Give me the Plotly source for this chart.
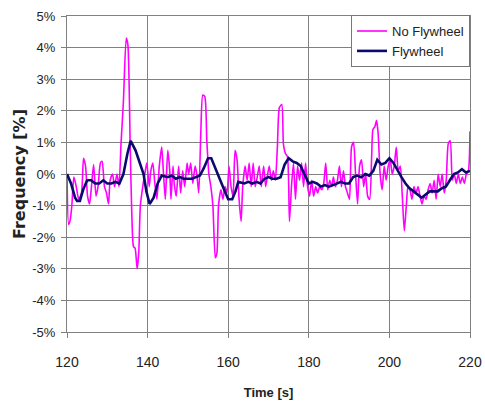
import plotly.graph_objects as go

# No Flywheel series (time [s], frequency deviation [%])
t_nofly = [120, 120.4, 120.8, 121.2, 121.7, 122.3, 122.9, 123.6, 124.1, 124.6, 125.1, 125.6, 126, 126.6,
           127.2, 127.7, 128.3, 128.7, 129.3, 129.8, 130.3, 130.7, 131.3, 131.8, 132.4, 132.9, 133.4, 134,
           134.7, 135.1, 135.7, 136.1, 136.5, 136.9, 137.4, 137.8, 138.2, 138.8, 139.3, 139.8, 140.4, 140.8,
           141.3, 141.8, 142.3, 142.9, 143.5, 143.9, 144.4, 145, 145.5, 145.8, 146.3, 146.6, 147.1, 147.7,
           148.2, 148.7, 149.2, 149.8, 150.2, 150.7, 151.2, 151.8, 152.2, 152.7, 153.2, 153.7, 154.2, 154.7,
           155.2, 155.7, 156.2, 156.8, 157.2, 157.6, 158.2, 158.7, 159.2, 159.7, 160.2, 160.7, 161.2, 161.7,
           162.2, 162.7, 163.2, 163.6, 164.2, 164.7, 165.2, 165.7, 166.2, 166.7, 167.2, 167.7, 168.2, 168.8,
           169.3, 169.8, 170.2, 170.7, 171.2, 171.7, 172.2, 172.7, 173.3, 173.7, 174.2, 174.7, 175.2, 175.7,
           176.2, 176.7, 177.2, 177.7, 178.2, 178.7, 179.2, 179.7, 180.2, 180.7, 181.2, 181.7, 182.2, 182.7,
           183.2, 183.7, 184.2, 184.7, 185.2, 185.7, 186.1, 186.6, 187.1, 187.6, 188.1, 188.6, 189.1, 189.6,
           190.1, 190.6, 191.1, 191.6, 192.1, 192.6, 193.1, 193.6, 194.1, 194.6, 195.1, 195.6, 195.9, 196.4,
           196.8, 197.2, 197.7, 198.2, 198.7, 199.2, 199.7, 200.2, 200.7, 201.2, 201.7, 202.2, 202.7, 203.2,
           203.7, 204.2, 204.6, 205.1, 205.6, 206.1, 206.6, 207.1, 207.6, 208.1, 208.6, 209.1, 209.6, 210.1,
           210.6, 211.1, 211.6, 212.1, 212.6, 213.1, 213.6, 214.1, 214.6, 215.1, 215.6, 216.1, 216.6, 217.1,
           217.6, 218.1, 218.6, 219.1, 219.6, 220]
f_nofly = [0, -1.6, -1.45, -1.0, -0.1, -0.4, -0.8, -0.6, 0.5, 0.25, -0.7, -0.95, -0.5, 0.3,
           -0.7, -0.4, 0.35, 0.4, -0.4, -0.6, -0.95, -0.2, 0, -0.4, 0, -0.4, 0.95, 2.3,
           4.3, 4.1, 0.75, -1.35, -2.3, -2.35, -3.0, -2.5, -1.0, -0.4, 0, 0.35, -0.4, 0.1,
           0.35, -0.3, -0.8, 0.25, 0.85, 0.1, -0.8, 0.75, 0.1, -0.8, 0.25, -0.3, -0.7, 0.25,
           -0.6, 0.1, -0.4, 0.35, 0, 0.35, -0.3, 0.25, 0, -0.6, 1.3, 2.5, 2.45, 1.05,
           0, -0.4, -1.0, -2.65, -2.5, -1.0, -0.5, -0.8, -0.4, -0.6, 0.25, -0.4, -0.7, 0.75,
           0.45, -0.8, -1.5, -0.4, 0.25, -0.2, 0.35, -0.4, 0.35, -0.4, -0.1, 0.25, -0.4, 0.25,
           -0.4, 0, 0.25, -0.2, 0.1, -0.2, 0.85, 2.1, 2.2, 0.95, 0.65, 0.55, -1.5, -0.4,
           0.35, -0.8, 0.25, -0.2, 0.35, -0.4, 0.35, -0.4, -0.7, -0.2, -0.7, -0.4, -0.6, -0.4,
           -0.5, -0.3, 0.35, -0.5, -0.2, -0.4, -0.1, -0.4, -0.2, 0.25, -0.4, 0.1, -0.4, -0.6,
           -0.8, 0.85, 1.0, 0, -0.95, 0.25, 0.45, -0.4, 0, -0.7, -0.8, 0.55, 1.4, 1.5,
           1.7, 1.3, 0, -0.5, 0.25, -0.2, 0.25, 0.45, 0, 0.25, 0.85, 0.1, 0.25, -0.7,
           -1.8, -1.0, -0.4, -0.5, -0.8, -0.4, -0.6, -0.4, -0.7, -0.95, -0.7, -0.8, -0.5, -0.3,
           -0.6, -0.2, -0.8, 0, -0.4, 0, -0.6, -0.2, 0.95, 1.05, -0.2, 0, -0.3, 0,
           -0.3, -0.1, -0.3, 0, 0.1, 1.35]

# Flywheel series
t_fly = [120, 121, 122, 122.5, 123.2, 124, 125, 126, 127, 128, 129, 130, 131, 132, 133, 134, 135, 135.8,
         137, 138, 139, 139.7, 140.5, 141.5, 142.5, 143.5, 145, 146, 147, 148, 149, 150, 151, 152, 153,
         154, 155, 155.8, 157, 158, 159, 160, 161, 161.8, 162.5, 164, 165, 166, 167, 168, 169, 170, 171,
         172, 173, 174, 175, 176, 177, 178, 179, 180, 181, 182, 183, 184, 185, 186, 187, 188, 189, 190,
         191, 192, 193, 194, 195, 196, 197, 198, 199, 200, 201, 202, 203, 204, 205, 206, 207, 208, 209,
         210, 211, 212, 213, 214, 215, 216, 217, 218, 219, 220]
f_fly = [0, -0.3, -0.75, -0.85, -0.85, -0.5, -0.2, -0.2, -0.3, -0.3, -0.2, -0.3, -0.3, -0.25, -0.3, 0.0, 0.65, 1.05,
         0.75, 0.4, 0.0, -0.55, -0.95, -0.75, -0.3, -0.05, -0.1, -0.05, -0.15, -0.1, -0.15, -0.15, -0.15, -0.1, -0.05,
         0.2, 0.5, 0.5, 0.1, -0.2, -0.5, -0.8, -0.8, -0.55, -0.25, -0.3, -0.25, -0.3, -0.25, -0.3, -0.15, -0.1, -0.15,
         -0.15, -0.1, 0.3, 0.5, 0.4, 0.35, 0.25, -0.05, -0.3, -0.25, -0.3, -0.4, -0.35, -0.4, -0.35, -0.3, -0.25, -0.3, -0.3,
         -0.1, -0.05, -0.1, 0.0, -0.05, 0.1, 0.45, 0.3, 0.35, 0.5, 0.35, 0.1, -0.1, -0.3, -0.45, -0.55, -0.65, -0.75, -0.65,
         -0.55, -0.55, -0.55, -0.45, -0.4, -0.2, 0.0, 0.05, 0.15, 0.05, 0.1]

x_ticks = [120, 140, 160, 180, 200, 220]
y_ticks = [5, 4, 3, 2, 1, 0, -1, -2, -3, -4, -5]
y_tick_labels = ["5%", "4%", "3%", "2%", "1%", "0%", "-1%", "-2%", "-3%", "-4%", "-5%"]

fig = go.Figure()
fig.add_trace(go.Scatter(x=t_nofly, y=f_nofly, mode="lines", name="No Flywheel",
                         line=dict(color="#FF00FF", width=1.6, shape="spline", smoothing=0.6)))
fig.add_trace(go.Scatter(x=t_fly, y=f_fly, mode="lines", name="Flywheel",
                         line=dict(color="#0A0A6E", width=2.6)))

font_fam = "Liberation Sans, Arial, sans-serif"
fig.update_layout(
    width=485, height=403,
    margin=dict(l=67, r=15, t=16, b=71, autoexpand=False),
    paper_bgcolor="white", plot_bgcolor="white",
    font=dict(family=font_fam, size=13, color="#222"),
    showlegend=True,
    legend=dict(x=1, y=1.003, xanchor="right", yanchor="top",
                bgcolor="white", bordercolor="#777", borderwidth=1,
                font=dict(size=13, color="#222"), itemwidth=30,
                tracegroupgap=0),
)
fig.update_xaxes(range=[120, 220], tickvals=x_ticks, showgrid=True, gridcolor="#808080", gridwidth=1,
                 showline=True, linecolor="#808080", mirror=True, ticks="outside", ticklen=5,
                 tickcolor="#808080", zeroline=False, automargin=False, ticklabelstandoff=12,
                 tickfont=dict(size=14, family=font_fam, color="#222"),
                 title=dict(text="<b>Time [s]</b>", font=dict(size=13, family=font_fam), standoff=19))
fig.update_yaxes(range=[-5, 5], tickvals=y_ticks, ticktext=y_tick_labels, showgrid=True,
                 gridcolor="#808080", gridwidth=1, showline=True, linecolor="#808080", mirror=True,
                 ticks="outside", ticklen=5, tickcolor="#808080", zeroline=False, automargin=False,
                 ticklabelstandoff=3,
                 tickfont=dict(size=13, family=font_fam, color="#222"),
                 title=dict(text="<b>Frequency [%]</b>", font=dict(size=16, family="DejaVu Sans, sans-serif"),
                            standoff=2))

fig.write_html("out.html", config={"displayModeBar": False},
               post_script="document.body.style.margin='0';")
